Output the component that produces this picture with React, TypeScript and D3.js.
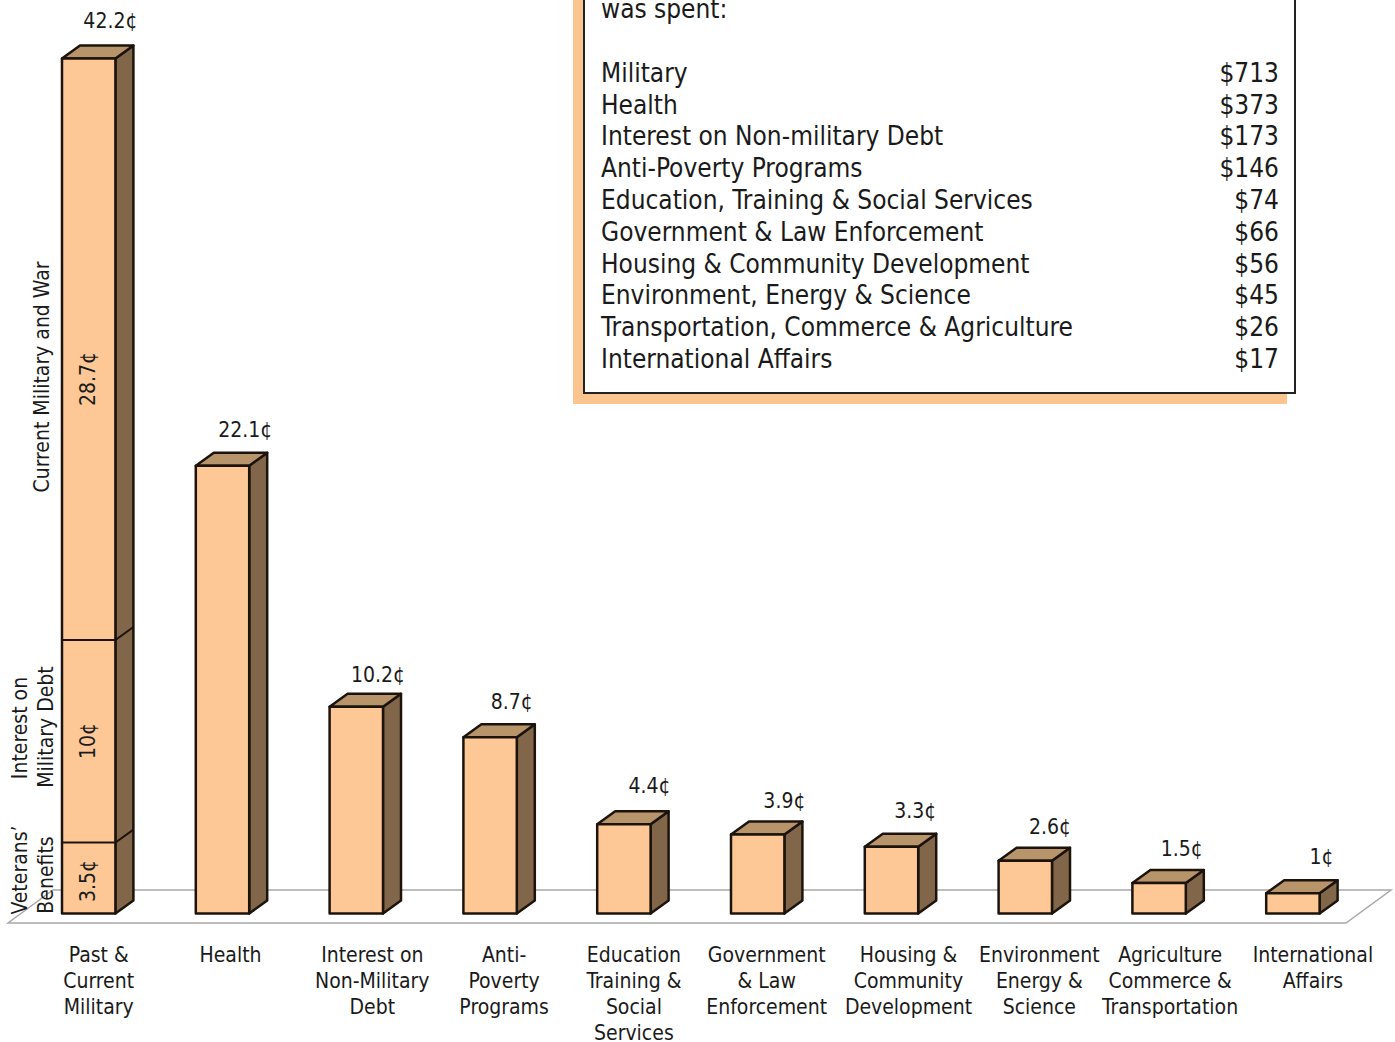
import React from "react";
import * as d3 from "d3";

const categories = [
  ["Past &", "Current", "Military"],
  ["Health"],
  ["Interest on", "Non-Military", "Debt"],
  ["Anti-", "Poverty", "Programs"],
  ["Education", "Training &", "Social", "Services"],
  ["Government", "& Law", "Enforcement"],
  ["Housing &", "Community", "Development"],
  ["Environment", "Energy &", "Science"],
  ["Agriculture", "Commerce &", "Transportation"],
  ["International", "Affairs"],
];
const barValues = [42.2, 22.1, 10.2, 8.7, 4.4, 3.9, 3.3, 2.6, 1.5, 1];
const barLabels = ["42.2¢", "22.1¢", "10.2¢", "8.7¢", "4.4¢", "3.9¢", "3.3¢", "2.6¢", "1.5¢", "1¢"];
const militarySegments = [3.5, 10, 28.7];
const militaryLabels = ["3.5¢", "10¢", "28.7¢"];
const tableNames = [
  "Military",
  "Health",
  "Interest on Non-military Debt",
  "Anti-Poverty Programs",
  "Education, Training & Social Services",
  "Government & Law Enforcement",
  "Housing & Community Development",
  "Environment, Energy & Science",
  "Transportation, Commerce & Agriculture",
  "International Affairs",
];
const tableAmounts = ["$713", "$373", "$173", "$146", "$74", "$66", "$56", "$45", "$26", "$17"];

// layout nudges, in pixels, relative to each bar
const valueLabelDx = [-5, -4, -5, -5, -1, 0, -3, -2, -4, 2];
const valueLabelDy = [-38, -36, -32, -35, -38, -33, -36, -34, -34, -36];
const categoryDx = [10, 8, 16, 14, 10, 9, 17, 14, 11, 20];
const segmentLabelY = [881, 741, 379];

const FONT = "'DejaVu Sans Condensed', 'DejaVu Sans', sans-serif";
const FRONT = "#fdc896";
const SIDE = "#826649";
const TOP = "#b8946b";
const STROKE = "#1c140c";
const DX = 18;
const DY = -13;
const LABEL_SIZE = 21;

const bw = 53.4;
const bx = d3.scalePoint<number>().domain(d3.range(10)).range([62, 1266.2]);
const y = d3.scaleLinear().domain([0, 42.2]).range([913.5, 58.5]);

const path = (pts: [number, number][]) => (d3.line()(pts) as string) + "Z";

export default function App() {
  return (
    <svg
      width={1395}
      height={1042}
      style={{ position: "absolute", left: 0, top: 0, display: "block", background: "#fff" }}
      fontFamily={FONT}
      fill="#1a1a1a"
    >
      {/* floor */}
      <path
        d={path([[8, 923], [1346, 923], [1391, 890], [53, 890]])}
        fill="#fff"
        stroke="#a8a8a8"
        strokeWidth={1.5}
      />

      {/* info box */}
      <rect x={573} y={-20} width={714} height={424} fill="#fcc48e" />
      <rect x={584} y={-20} width={711} height={413} fill="#fff" stroke="#222" strokeWidth={2} />
      <text x={601} y={18} fontSize={26}>was spent:</text>
      {tableNames.map((n, i) => {
        const ty = 82 - 0.3 + i * 31.8;
        return (
          <g key={n} fontSize={26}>
            <text x={601} y={ty}>{n}</text>
            <text x={1279} y={ty} textAnchor="end">{tableAmounts[i]}</text>
          </g>
        );
      })}

      {/* bars */}
      {barValues.map((v, i) => {
        const l = bx(i) as number;
        const r = l + bw;
        const t = y(v);
        const b = y(0);
        return (
          <g key={i} stroke={STROKE} strokeWidth={2.5} strokeLinejoin="round">
            <path d={path([[r, t], [r + DX, t + DY], [r + DX, b + DY], [r, b]])} fill={SIDE} />
            <path d={path([[l, t], [l + DX, t + DY], [r + DX, t + DY], [r, t]])} fill={TOP} />
            <path d={path([[l, t], [r, t], [r, b], [l, b]])} fill={FRONT} />
            <text
              x={r + valueLabelDx[i]}
              y={t + valueLabelDy[i] + 7}
              textAnchor="middle"
              fontSize={LABEL_SIZE}
              stroke="none"
              fill="#1a1a1a"
            >
              {barLabels[i]}
            </text>
            {categories[i].map((line, j) => (
              <text
                key={j}
                x={l + bw / 2 + categoryDx[i]}
                y={962 + j * 26}
                textAnchor="middle"
                fontSize={LABEL_SIZE}
                stroke="none"
                fill="#1a1a1a"
              >
                {line}
              </text>
            ))}
          </g>
        );
      })}

      {/* segment dividers and labels on the first bar */}
      {militarySegments.map((s, i) => {
        const top = d3.sum(militarySegments.slice(0, i + 1));
        const yy = y(top);
        const l = bx(0) as number;
        const r = l + bw;
        return (
          <g key={i}>
            {i < militarySegments.length - 1 && (
              <path
                d={`M${l},${yy}L${r},${yy}L${r + DX},${yy + DY}`}
                fill="none"
                stroke={STROKE}
                strokeWidth={2}
              />
            )}
            <text
              transform={`translate(${l + bw / 2 + 6},${segmentLabelY[i]}) rotate(-90)`}
              textAnchor="middle"
              fontSize={LABEL_SIZE}
            >
              {militaryLabels[i]}
            </text>
          </g>
        );
      })}

      {/* rotated segment names */}
      <text transform="translate(49,377) rotate(-90)" textAnchor="middle" fontSize={LABEL_SIZE}>Current Military and War</text>
      <text transform="translate(27,728) rotate(-90)" textAnchor="middle" fontSize={LABEL_SIZE}>Interest on</text>
      <text transform="translate(53,727) rotate(-90)" textAnchor="middle" fontSize={LABEL_SIZE}>Military Debt</text>
      <text transform="translate(27,870) rotate(-90)" textAnchor="middle" fontSize={LABEL_SIZE}>Veterans’</text>
      <text transform="translate(53,875) rotate(-90)" textAnchor="middle" fontSize={LABEL_SIZE}>Benefits</text>
    </svg>
  );
}
